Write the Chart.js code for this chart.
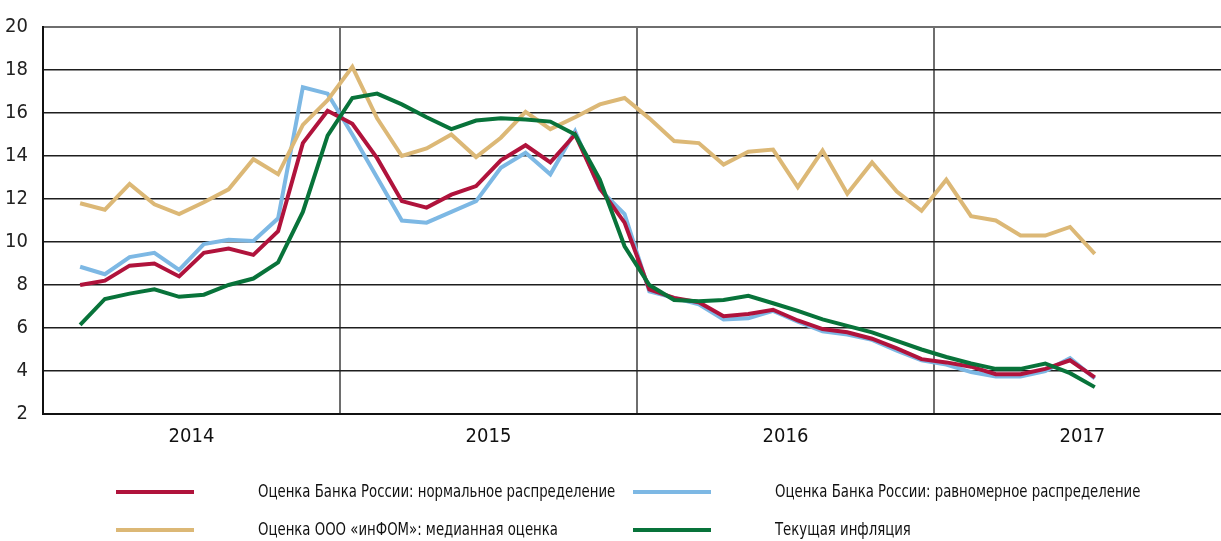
<!DOCTYPE html>
<html>
<head>
<meta charset="utf-8">
<script src="https://cdn.jsdelivr.net/npm/chart.js@4.4.0/dist/chart.umd.min.js"></script>
<style>
  html, body { margin: 0; padding: 0; background: #fff; }
  #wrap { width: 1221px; height: 541px; }
</style>
</head>
<body>
<div id="wrap"><canvas id="inflationChart" width="1221" height="541"></canvas></div>
<script>
// monthly observations, Feb 2014 - Jul 2017
const months = [
  '2014-02', '2014-03', '2014-04', '2014-05', '2014-06', '2014-07', '2014-08', '2014-09', '2014-10', '2014-11', '2014-12',
  '2015-01', '2015-02', '2015-03', '2015-04', '2015-05', '2015-06', '2015-07', '2015-08', '2015-09', '2015-10', '2015-11', '2015-12',
  '2016-01', '2016-02', '2016-03', '2016-04', '2016-05', '2016-06', '2016-07', '2016-08', '2016-09', '2016-10', '2016-11', '2016-12',
  '2017-01', '2017-02', '2017-03', '2017-04', '2017-05', '2017-06', '2017-07'
];
const years = ['2014', '2015', '2016', '2017'];
const yTicks = [2, 4, 6, 8, 10, 12, 14, 16, 18, 20];

const seriesNames = [
  'Оценка Банка России: нормальное распределение',
  'Оценка Банка России: равномерное распределение',
  'Оценка ООО «инФОМ»: медианная оценка',
  'Текущая инфляция'
];

const normalEstimate = [
  8.0, 8.2, 8.9, 9.0, 8.4, 9.5, 9.7, 9.4, 10.5, 14.6, 16.1,
  15.5, 13.9, 11.9, 11.6, 12.2, 12.6, 13.8, 14.5, 13.7, 15.0, 12.5, 10.9,
  7.8, 7.4, 7.2, 6.55, 6.65, 6.85, 6.35, 5.95, 5.8, 5.5, 5.05, 4.55,
  4.4, 4.2, 3.85, 3.85, 4.1, 4.5, 3.7
];
const uniformEstimate = [
  8.85, 8.5, 9.3, 9.5, 8.7, 9.9, 10.1, 10.05, 11.1, 17.2, 16.9,
  15.0, 13.0, 11.0, 10.9, 11.4, 11.9, 13.45, 14.15, 13.15, 15.15, 12.45, 11.3,
  7.7, 7.4, 7.1, 6.4, 6.45, 6.8, 6.3, 5.85, 5.7, 5.45, 4.95, 4.5,
  4.3, 3.95, 3.75, 3.75, 4.0, 4.6, 3.65
];
const infomMedian = [
  11.8, 11.5, 12.7, 11.75, 11.3, 11.85, 12.45, 13.85, 13.15, 15.45, 16.6,
  18.15, 15.75, 14.0, 14.35, 15.0, 13.95, 14.85, 16.05, 15.25, 15.8, 16.4, 16.7,
  15.75, 14.7, 14.6, 13.6, 14.2, 14.3, 12.55, 14.25, 12.25, 13.7, 12.35, 11.45,
  12.9, 11.2, 11.0, 10.3, 10.3, 10.7, 9.45
];
const currentInflation = [
  6.15, 7.35, 7.6, 7.8, 7.45, 7.55, 8.0, 8.3, 9.05, 11.4, 14.95,
  16.7, 16.9, 16.4, 15.8, 15.25, 15.65, 15.75, 15.7, 15.6, 15.0, 12.9, 9.8,
  8.0, 7.3, 7.25, 7.3, 7.5, 7.15, 6.8, 6.4, 6.1, 5.8, 5.4, 5.0,
  4.65, 4.35, 4.1, 4.1, 4.35, 3.9, 3.25
];

const colors = ['#b0133c', '#7db8e4', '#dcb876', '#08733a'];
const drawOrder = [1, 3, 2, 0];

// month index measured from Jan 2014, centred inside the month
function monthPos(m) {
  const parts = m.split('-').map(Number);
  return (parts[0] - 2014) * 12 + parts[1] - 0.5;
}

function toPoints(values) {
  return values.map((v, i) => ({ x: monthPos(months[i]), y: v }));
}

const allSeries = [normalEstimate, uniformEstimate, infomMedian, currentInflation];

const fontFamily = '"DejaVu Sans Condensed", "DejaVu Sans", sans-serif';

// two-column legend under the plot, text squeezed to look like the condensed original
const legendPlugin = {
  id: 'bottomLegend',
  afterDraw(chart) {
    const ctx = chart.ctx;
    const rows = [492, 530];
    const sampleX = [116, 633];
    const textX = [258, 775];
    const squeeze = 0.82;
    ctx.save();
    ctx.font = '18px ' + fontFamily;
    ctx.textBaseline = 'middle';
    ctx.fillStyle = '#111';
    chart.data.datasets.forEach((ds, i) => {
      const col = i % 2, row = Math.floor(i / 2);
      const y = rows[row];
      ctx.strokeStyle = ds.borderColor;
      ctx.lineWidth = 4;
      ctx.beginPath();
      ctx.moveTo(sampleX[col], y);
      ctx.lineTo(sampleX[col] + 78, y);
      ctx.stroke();
      ctx.save();
      ctx.translate(textX[col], y);
      ctx.scale(squeeze, 1);
      ctx.fillText(ds.label, 0, 0);
      ctx.restore();
    });
    ctx.restore();
  }
};

const ctx = document.getElementById('inflationChart').getContext('2d');
const inflationChart = new Chart(ctx, {
  type: 'line',
  data: {
    datasets: allSeries.map((s, i) => ({
      label: seriesNames[i],
      data: toPoints(s),
      borderColor: colors[i],
      backgroundColor: colors[i],
      borderWidth: 4,
      pointRadius: 0,
      tension: 0,
      fill: false,
      order: drawOrder[i]
    }))
  },
  options: {
    responsive: false,
    animation: false,
    layout: { padding: { top: 23, right: 0, left: 0, bottom: 0 } },
    plugins: {
      legend: { display: false },
      tooltip: { enabled: false }
    },
    scales: {
      x: {
        type: 'linear',
        position: 'bottom',
        min: 0,
        max: 47.6,
        afterBuildTicks: scale => { scale.ticks = years.map((y, i) => ({ value: 6 + 12 * i })); },
        afterFit: scale => { scale.height = 127; },
        ticks: {
          padding: 11,
          color: '#111',
          font: { family: fontFamily, size: 20 },
          callback: v => years[Math.round((v - 6) / 12)]
        },
        grid: { display: false, drawTicks: false },
        border: { display: true, color: '#111', width: 2 }
      },
      yearGrid: {
        type: 'linear',
        position: 'top',
        min: 0,
        max: 47.6,
        afterBuildTicks: scale => { scale.ticks = [12, 24, 36].map(v => ({ value: v })); },
        afterFit: scale => { scale.height = 0; },
        ticks: { display: false },
        grid: { color: '#6e6e6e', lineWidth: 2, drawTicks: false },
        border: { display: true, color: '#6e6e6e', width: 2 }
      },
      y: {
        min: 2,
        max: 20,
        afterBuildTicks: scale => { scale.ticks = yTicks.map(v => ({ value: v })); },
        afterFit: scale => { scale.width = 43; },
        ticks: {
          padding: 15,
          color: '#222',
          font: { family: fontFamily, size: 20 }
        },
        grid: {
          drawTicks: false,
          lineWidth: 1.4,
          color: c => (c.tick && c.tick.value === 20 ? '#6e6e6e' : '#1e1e1e')
        },
        border: { display: true, color: '#111', width: 2 }
      }
    }
  },
  plugins: [legendPlugin]
});
</script>
</body>
</html>
